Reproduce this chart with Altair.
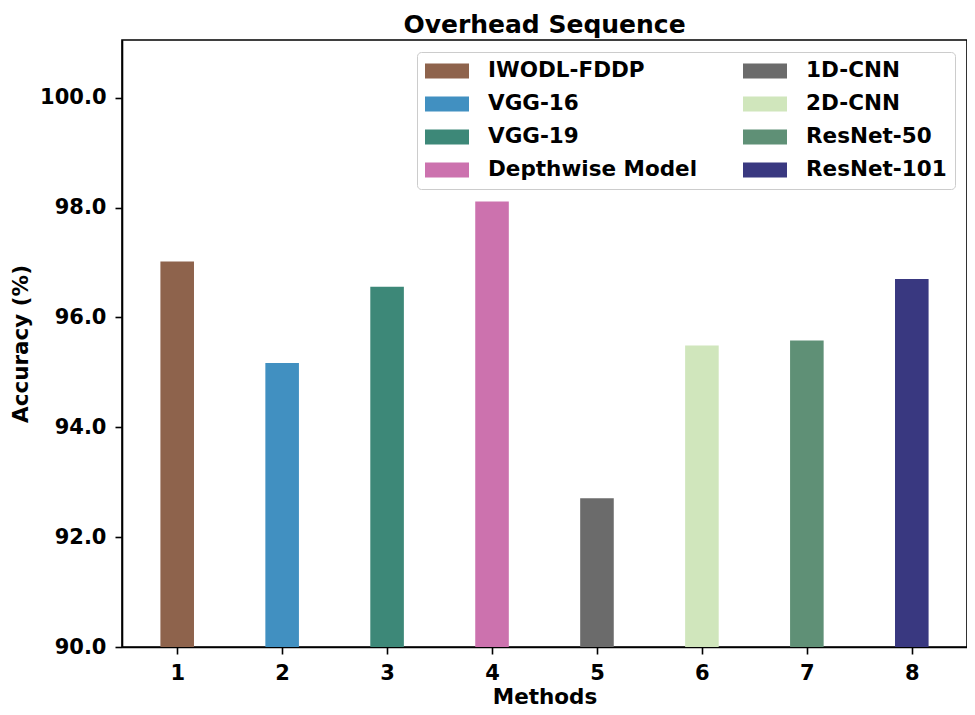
import altair as alt
import pandas as pd

methods = [1, 2, 3, 4, 5, 6, 7, 8]
names = ["IWODL-FDDP", "VGG-16", "VGG-19", "Depthwise Model",
         "1D-CNN", "2D-CNN", "ResNet-50", "ResNet-101"]
accuracy = [97.02, 95.17, 96.56, 98.11, 92.71, 95.49, 95.58, 96.70]
colors = ["#8E634C", "#4190C1", "#3D8878", "#CC72AE",
          "#6B6B6B", "#D0E6BC", "#5F9076", "#393880"]
y_ticks = [90, 92, 94, 96, 98, 100]

df = pd.DataFrame({"method": methods, "name": names, "accuracy": accuracy})

FONT = "DejaVu Sans"

bars = alt.Chart(df).transform_calculate(
    x0="datum.method - 0.16", x1="datum.method + 0.16"
).mark_bar(clip=True).encode(
    x=alt.X("x0:Q",
            scale=alt.Scale(domain=[0.474, 8.526], nice=False, zero=False),
            axis=alt.Axis(values=methods, format="d", title="Methods",
                          labelPadding=8, titlePadding=3)),
    x2="x1:Q",
    y=alt.Y("accuracy:Q",
            scale=alt.Scale(domain=[90, 101.05], nice=False, zero=False),
            axis=alt.Axis(values=y_ticks, format=".1f", title="Accuracy (%)",
                          labelPadding=9, titlePadding=7)),
    y2=alt.datum(90),
    color=alt.Color("name:N",
                    scale=alt.Scale(domain=names, range=colors),
                    legend=alt.Legend(
                        title=None, orient="none", legendX=295, legendY=12,
                        columns=2, columnPadding=45, rowPadding=11,
                        clipHeight=22,
                        symbolType="M-1,-0.34L1,-0.34L1,0.34L-1,0.34Z",
                        symbolSize=1936, symbolStrokeWidth=0, symbolOpacity=1,
                        labelOffset=19, labelFont=FONT, labelFontWeight="bold",
                        labelFontSize=21.5, labelColor="black", labelLimit=400,
                        padding=8, strokeColor="#cccccc", fillColor="white",
                        cornerRadius=4, labelBaseline="middle")),
)

chart = bars.properties(
    width=845, height=607,
    padding={"left": 114, "top": 32, "right": 0, "bottom": 60},
    autosize=alt.AutoSizeParams(type="none"),
    title=alt.Title("Overhead Sequence", font=FONT, fontSize=25,
                    fontWeight="bold", color="black", offset=2, anchor="middle"),
).configure_view(
    stroke="black", strokeWidth=1.6
).configure_axis(
    grid=False, domainColor="black", domainWidth=1.6,
    tickColor="black", tickWidth=1.6, tickSize=7,
    labelFont=FONT, labelFontWeight="bold", labelFontSize=21, labelColor="black",
    titleFont=FONT, titleFontWeight="bold", titleFontSize=21.5, titleColor="black",
)

chart.save("out.html", embed_options={"renderer": "svg", "actions": False})
